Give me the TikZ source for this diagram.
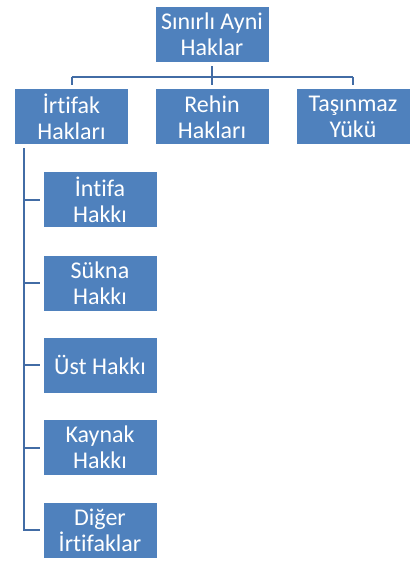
\documentclass[tikz,border=0pt]{standalone}
\usepackage{fontspec}
\setmainfont{Carlito}[Ligatures={NoCommon}]
\usetikzlibrary{shadows,backgrounds}
\definecolor{boxblue}{RGB}{79,129,189}
\definecolor{lineblue}{RGB}{66,108,165}
\tikzset{
  box/.style={rectangle, fill=boxblue, draw=white, line width=4pt,
    minimum width=117pt, minimum height=59pt, inner sep=0pt,
    text=white, align=center,
    font=\fontsize{24pt}{26pt}\selectfont,
    drop shadow={shadow xshift=1pt, shadow yshift=-1.5pt, opacity=0.4, fill=black!50}},
  link/.style={draw=lineblue, line width=2pt}
}
\begin{document}
\begin{tikzpicture}[x=1pt,y=-1pt]
\useasboundingbox (0,0) rectangle (418,564);
\node[box] (top) at (212,34.5) {Sınırlı Ayni\\Haklar};
\node[box] (irt) at (71.5,117) {İrtifak\\Hakları};
\node[box] (reh) at (212,117) {Rehin\\Hakları};
\node[box] (tas) at (353,117) {Taşınmaz\\Yükü};
\node[box] (c1) at (100,199.7) {İntifa\\Hakkı};
\node[box] (c2) at (100,283) {Sükna\\Hakkı};
\node[box] (c3) at (100,365) {Üst Hakkı};
\node[box] (c4) at (100,447.5) {Kaynak\\Hakkı};
\node[box] (c5) at (100,530) {Diğer\\İrtifaklar};
\coordinate (bar) at (212,77);
\coordinate (sp) at (24,140);
\begin{scope}[on background layer]
\draw[link] (top.south) -- (bar);
\draw[link] (bar -| irt.north) -- (bar -| tas.north);
\draw[link] (bar -| irt.north) -- (irt.north);
\draw[link] (bar) -- (reh.north);
\draw[link] (bar -| tas.north) -- (tas.north);
\draw[link] (sp) |- (c5.west);
\draw[link] (sp |- c1.west) -- (c1.west);
\draw[link] (sp |- c2.west) -- (c2.west);
\draw[link] (sp |- c3.west) -- (c3.west);
\draw[link] (sp |- c4.west) -- (c4.west);
\end{scope}
\end{tikzpicture}
\end{document}
